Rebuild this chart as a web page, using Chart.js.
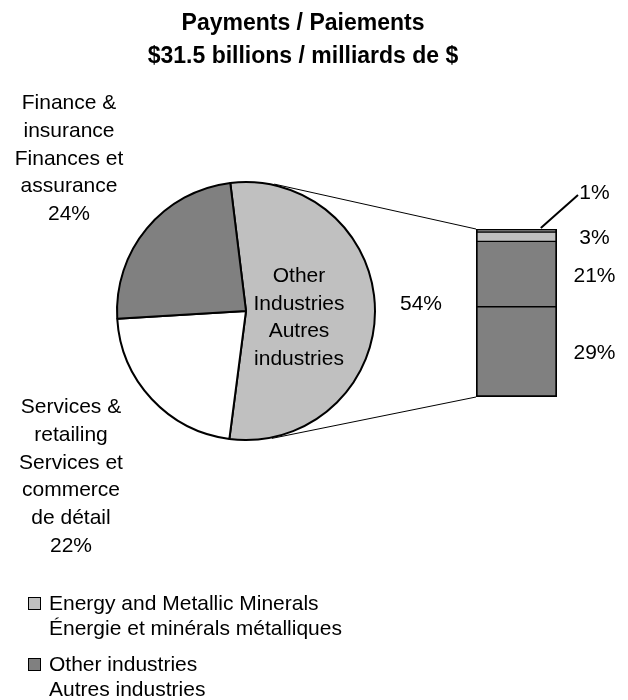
<!DOCTYPE html>
<html>
<head>
<meta charset="utf-8">
<script src="https://cdn.jsdelivr.net/npm/chart.js@4"></script>
<style>
  body { margin: 0; background: #fff; }
  #wrap { position: relative; width: 628px; height: 700px; }
  #wrap canvas { position: absolute; left: 0; top: 0; }
</style>
</head>
<body>
<div id="wrap">
  <canvas id="pieChart" width="628" height="700"></canvas>
  <canvas id="barChart" width="628" height="700"></canvas>
</div>
<script>
const titleLines = ['Payments / Paiements', '$31.5 billions / milliards de $'];

const pieCategories = ['Other Industries', 'Services & retailing', 'Finance & insurance'];
const pieValues = [54, 22, 24];
const pieColors = ['#c0c0c0', '#ffffff', '#808080'];

// bar of pie, bottom to top
const barSegments = ['Other industries', 'Other industries', 'Energy and Metallic Minerals', 'Other industries'];
const barValues = [29, 21, 3, 1];
const barColors = ['#808080', '#808080', '#c0c0c0', '#808080'];

const otherLabel = ['Other', 'Industries', 'Autres', 'industries'];
const financeLabel = ['Finance &', 'insurance', 'Finances et', 'assurance'];
const servicesLabel = ['Services &', 'retailing', 'Services et', 'commerce', 'de détail'];

const legendLines = [
    ['Energy and Metallic Minerals', 'Énergie et minérals métalliques'],
    ['Other industries', 'Autres industries']
];
const legendColors = ['#c0c0c0', '#808080'];

const FONT = '"Liberation Sans", Arial, sans-serif';

function textLines(ctx, lines, x, y0, step) {
    for (let i = 0; i < lines.length; i++) {
        ctx.fillText(lines[i], x, y0 + i * step);
    }
}

// title, slice labels and legend
const pieText = {
    id: 'pieText',
    afterDraw(chart) {
        const ctx = chart.ctx;
        const arc = chart.getDatasetMeta(0).data[0];
        ctx.save();
        ctx.fillStyle = '#000';
        ctx.textAlign = 'center';
        ctx.textBaseline = 'alphabetic';

        ctx.font = 'bold 23px ' + FONT;
        textLines(ctx, titleLines, 303, 29.5, 33.5);

        ctx.font = '21px ' + FONT;
        textLines(ctx, otherLabel, arc.x + 53, arc.y - 29, 27.5);
        ctx.fillText(pieValues[0] + '%', arc.x + 175, arc.y - 1);

        textLines(ctx, financeLabel.concat(pieValues[2] + '%'), 69, 109, 27.8);
        textLines(ctx, servicesLabel.concat(pieValues[1] + '%'), 71, 413, 27.8);

        // legend
        ctx.textAlign = 'left';
        for (let i = 0; i < legendLines.length; i++) {
            const top = 597 + i * 61;
            ctx.fillStyle = legendColors[i];
            ctx.fillRect(28, top, 13, 13);
            ctx.strokeStyle = '#000';
            ctx.lineWidth = 1;
            ctx.strokeRect(28.5, top + 0.5, 12, 12);
            ctx.fillStyle = '#000';
            textLines(ctx, legendLines[i], 49, top + 13, 25);
        }
        ctx.restore();
    }
};

const pieChart = new Chart(document.getElementById('pieChart'), {
    type: 'pie',
    data: {
        labels: pieCategories,
        datasets: [{
            data: pieValues,
            backgroundColor: pieColors,
            borderColor: '#000',
            borderWidth: 2
        }]
    },
    options: {
        responsive: false,
        animation: false,
        rotation: -7,
        layout: {
            padding: {left: 116, right: 252, top: 181, bottom: 259}
        },
        plugins: {
            legend: {display: false},
            tooltip: {enabled: false}
        }
    },
    plugins: [pieText]
});

const barTotal = barValues.reduce((a, b) => a + b, 0);

function tangentPoint(cx, cy, r, px, py, side) {
    const dx = px - cx, dy = py - cy;
    const d = Math.sqrt(dx * dx + dy * dy);
    const a = Math.atan2(dy, dx) + side * Math.acos(r / d);
    return {x: cx + r * Math.cos(a), y: cy + r * Math.sin(a)};
}

// lines from the pie to the bar, and the bar's labels
const barExtras = {
    id: 'barExtras',
    beforeDatasetsDraw(chart) {
        const arc = pieChart.getDatasetMeta(0).data[0];
        const first = chart.getDatasetMeta(0).data[0];
        const last = chart.getDatasetMeta(barValues.length - 1).data[0];
        const left = first.x - first.width / 2;
        const r = arc.outerRadius + 1;
        const t1 = tangentPoint(arc.x, arc.y, r, left, last.y, -1);
        const t2 = tangentPoint(arc.x, arc.y, r, left, first.base, 1);
        const ctx = chart.ctx;
        ctx.save();
        ctx.strokeStyle = '#000';
        ctx.lineWidth = 1;
        ctx.beginPath();
        ctx.moveTo(t1.x, t1.y);
        ctx.lineTo(left, last.y);
        ctx.moveTo(t2.x, t2.y);
        ctx.lineTo(left, first.base);
        ctx.stroke();
        ctx.restore();
    },
    afterDatasetsDraw(chart) {
        const ctx = chart.ctx;
        ctx.save();
        ctx.fillStyle = '#000';
        ctx.font = '21px ' + FONT;
        ctx.textAlign = 'center';
        for (let i = 0; i < barValues.length; i++) {
            const bar = chart.getDatasetMeta(i).data[0];
            const right = bar.x + bar.width / 2;
            const mid = (bar.y + bar.base) / 2;
            if (i < barValues.length - 1) {
                ctx.fillText(barValues[i] + '%', right + 37.5, mid + 7.5);
            } else {
                ctx.fillText(barValues[i] + '%', right + 37.5, bar.y - 30);
                ctx.beginPath();
                ctx.lineWidth = 2;
                ctx.moveTo(bar.x + bar.width * 0.3, bar.y - 1);
                ctx.lineTo(right + 21, bar.y - 34);
                ctx.stroke();
            }
        }
        ctx.restore();
    }
};

new Chart(document.getElementById('barChart'), {
    type: 'bar',
    data: {
        labels: [''],
        datasets: barValues.map((v, i) => ({
            label: barSegments[i],
            data: [v],
            backgroundColor: barColors[i],
            borderColor: '#000',
            borderWidth: {
                left: 2,
                right: 2,
                top: i === barValues.length - 1 ? 2 : 1,
                bottom: i === 0 ? 2 : 1
            },
            borderSkipped: false,
            barPercentage: 1,
            categoryPercentage: 1
        }))
    },
    options: {
        responsive: false,
        animation: false,
        layout: {
            padding: {left: 476, right: 71, top: 229, bottom: 303}
        },
        scales: {
            x: {stacked: true, display: false},
            y: {stacked: true, display: false, min: 0, max: barTotal}
        },
        plugins: {
            legend: {display: false},
            tooltip: {enabled: false}
        }
    },
    plugins: [barExtras]
});
</script>
</body>
</html>
